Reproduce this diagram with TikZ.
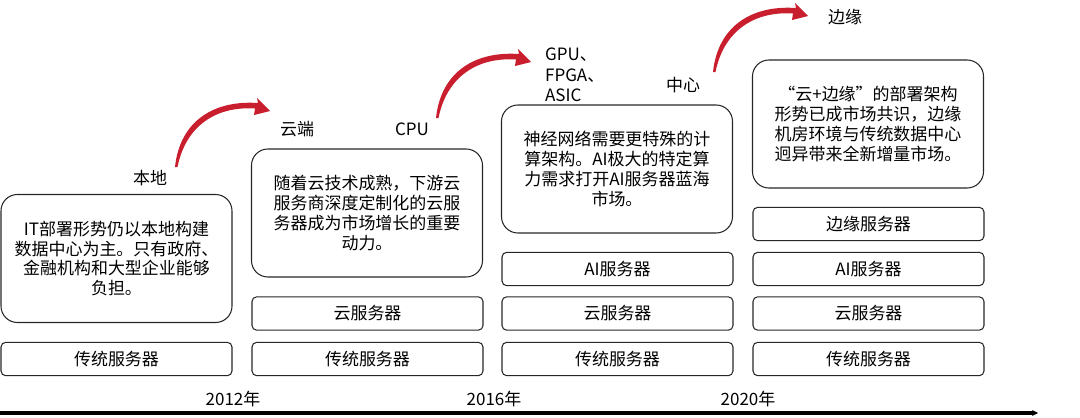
\documentclass[tikz,border=0pt]{standalone}
\usepackage{fontspec}
\setmainfont{Noto Sans CJK SC}
\usepackage{tikz}
\usetikzlibrary{arrows.meta}
\definecolor{arrowred}{RGB}{200,30,45}

\begin{document}
\begin{tikzpicture}[x=0.03cm, y=-0.03cm,
        font=\fontsize{14.5}{17}\selectfont,
        srvbox/.style={draw=black!85, line width=0.9pt, rounded corners=4pt, minimum width=6.93cm, minimum height=1.0cm, inner sep=0pt},
        txtbox/.style={draw=black!85, line width=0.9pt, rounded corners=14pt, minimum width=6.93cm, minimum height=3.84cm, align=center, inner sep=0pt},
        bendarrow/.pic={
          \fill[arrowred] (0,0) .. controls (5,-47) and (40,-67) .. (83,-64) -- (82,-69) -- (95,-56)
            -- (79,-52) -- (80,-58.5) .. controls (42,-61) and (11,-42) .. (2.5,0) -- cycle;
        }]
        \useasboundingbox (0,0) rectangle (1080,418);
        % server stacks
        \node[srvbox] (trad1) at (116.5,359) {传统服务器};
        \node[srvbox] (trad2) at (367.5,359) {传统服务器};
        \node[srvbox] (cloud2) at (367.5,313.5) {云服务器};
        \node[srvbox] (trad3) at (617.5,359) {传统服务器};
        \node[srvbox] (cloud3) at (617.5,313.5) {云服务器};
        \node[srvbox] (ai3) at (617.5,269) {AI服务器};
        \node[srvbox] (trad4) at (868.5,359) {传统服务器};
        \node[srvbox] (cloud4) at (868.5,313.5) {云服务器};
        \node[srvbox] (ai4) at (868.5,269) {AI服务器};
        \node[srvbox] (edge4) at (868.5,224) {边缘服务器};
        % descriptions
        \node[txtbox] (desc1) at (116.5,258.5) {IT部署形势仍以本地构建\\数据中心为主。只有政府、\\金融机构和大型企业能够\\负担。};
        \node[txtbox] (desc2) at (367,213) {随着云技术成熟，下游云\\服务商深度定制化的云服\\务器成为市场增长的重要\\动力。};
        \node[txtbox] (desc3) at (617,169) {神经网络需要更特殊的计\\算架构。AI极大的特定算\\力需求打开AI服务器蓝海\\市场。};
        \node[txtbox] (desc4) at (868,124) {“云+边缘”的部署架构\\形势已成市场共识，边缘\\机房环境与传统数据中心\\迥异带来全新增量市场。};
        % stage labels
        \node (bendi) at (150,178) {本地};
        \node (yunduan) at (297,129) {云端};
        \node (cpu) at (412,129) {CPU};
        \node[anchor=west, align=left, font=\fontsize{14.5}{17.5}\selectfont] (gpu) at (541,75) {GPU、\\FPGA、\\ASIC};
        \node (zhongxin) at (683,85) {中心};
        \node (bianyuan) at (845,17) {边缘};
        % red arrows
        \coordinate (arr1) at (175,167);
        \coordinate (arr2) at (436,118);
        \coordinate (arr3) at (713,72);
        \pic at (arr1) {bendarrow};
        \pic at (arr2) {bendarrow};
        \pic at (arr3) {bendarrow};
        % timeline
        \coordinate (t0) at (0,413);
        \coordinate (t1) at (1038,413);
        \draw[line width=2.8pt, -{Stealth[length=5pt,width=5pt]}] (t0) -- (t1);
        \node (y2012) at (233,399) {2012年};
        \node (y2016) at (494,399) {2016年};
        \node (y2020) at (748,399) {2020年};
      \end{tikzpicture}
\end{document}
